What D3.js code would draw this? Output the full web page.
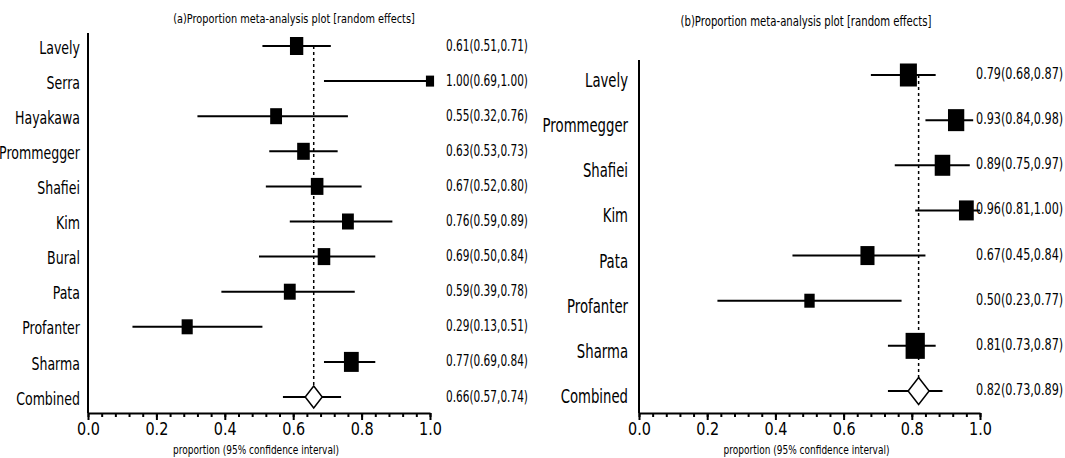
<!DOCTYPE html>
<html>
<head>
<meta charset="utf-8">
<script src="https://cdn.jsdelivr.net/npm/d3@7"></script>
<style>
  body { margin: 0; background: #fff; }
  text { font-family: "DejaVu Sans", sans-serif; fill: #000; }
</style>
</head>
<body>
<div id="chart"></div>
<script>
// panel (a)
const studiesA = ["Lavely", "Serra", "Hayakawa", "Prommegger", "Shafiei", "Kim", "Bural", "Pata", "Profanter", "Sharma"]
const estA = [0.61, 1.00, 0.55, 0.63, 0.67, 0.76, 0.69, 0.59, 0.29, 0.77]
const lowA = [0.51, 0.69, 0.32, 0.53, 0.52, 0.59, 0.50, 0.39, 0.13, 0.69]
const highA = [0.71, 1.00, 0.76, 0.73, 0.80, 0.89, 0.84, 0.78, 0.51, 0.84]
const boxA = [18, 11, 16, 17, 17, 16, 17, 16, 15, 20]   // marker size
const combA = {est: 0.66, low: 0.57, high: 0.74}

// panel (b)
const studiesB = ["Lavely", "Prommegger", "Shafiei", "Kim", "Pata", "Profanter", "Sharma"]
const estB = [0.79, 0.93, 0.89, 0.96, 0.67, 0.50, 0.81]
const lowB = [0.68, 0.84, 0.75, 0.81, 0.45, 0.23, 0.73]
const highB = [0.87, 0.98, 0.97, 1.00, 0.84, 0.77, 0.87]
const boxB = [23, 22, 21, 20, 19, 14, 26]
const combB = {est: 0.82, low: 0.73, high: 0.89}

const majorTicks = [0, 0.2, 0.4, 0.6, 0.8, 1.0]
const minorTicks = d3.range(0, 1.0001, 0.04)

const W = 1065, H = 458
const squeeze = 0.74   // the picture is narrowed horizontally

const svg = d3.select("#chart").append("svg")
  .attr("width", W).attr("height", H)

function txt(g, x, y, s, size, anchor, sx = 0.72) {
  return g.append("text")
    .attr("transform", `translate(${x},${y}) scale(${sx},1)`)
    .attr("text-anchor", anchor)
    .attr("dy", "0.36em")
    .style("font-size", size + "px")
    .text(s)
}

function fmt(e, l, h) {
  return `${e.toFixed(2)}(${l.toFixed(2)},${h.toFixed(2)})`
}

function forest(cfg) {
  const g = svg.append("g")
  const x = d3.scaleLinear().domain([0, 1]).range([cfg.x0, cfg.x1])
  const names = cfg.studies.concat(["Combined"])
  const y = d3.scalePoint().domain(names).range([cfg.yTop, cfg.yBottom])
  const rows = cfg.studies.map((s, i) => ({name: s, est: cfg.est[i], low: cfg.low[i], high: cfg.high[i], box: cfg.box[i]}))

  // title
  txt(g, cfg.titleX, cfg.titleY, cfg.title, cfg.titleSize, "middle", 0.75)

  // y axis line
  g.append("line")
    .attr("x1", cfg.x0).attr("x2", cfg.x0)
    .attr("y1", cfg.axisTop).attr("y2", cfg.axisY)
    .attr("stroke", "#000").attr("stroke-width", 2)

  // dashed line at the combined estimate
  g.append("line")
    .attr("x1", x(cfg.comb.est)).attr("x2", x(cfg.comb.est))
    .attr("y1", y(names[0])).attr("y2", y("Combined"))
    .attr("stroke", "#000").attr("stroke-width", 1.5)
    .style("stroke-dasharray", "3,3")

  // confidence intervals
  g.selectAll("line.ci").data(rows).enter().append("line")
    .attr("class", "ci")
    .attr("x1", d => x(d.low)).attr("x2", d => x(d.high))
    .attr("y1", d => y(d.name)).attr("y2", d => y(d.name))
    .attr("stroke", "#000").attr("stroke-width", 2)

  // boxes
  g.selectAll("rect.box").data(rows).enter().append("rect")
    .attr("class", "box")
    .attr("x", d => x(d.est) - d.box * squeeze / 2)
    .attr("y", d => y(d.name) - d.box / 2)
    .attr("width", d => d.box * squeeze)
    .attr("height", d => d.box)
    .attr("fill", "#000")

  // combined
  const cy = y("Combined")
  g.append("line")
    .attr("x1", x(cfg.comb.low)).attr("x2", x(cfg.comb.high))
    .attr("y1", cy).attr("y2", cy)
    .attr("stroke", "#000").attr("stroke-width", 2)
  const cx = x(cfg.comb.est), dw = cfg.diamond[0] / 2, dh = cfg.diamond[1] / 2
  g.append("path")
    .attr("d", `M${cx},${cy - dh}L${cx + dw},${cy}L${cx},${cy + dh}L${cx - dw},${cy}Z`)
    .attr("fill", "#fff").attr("stroke", "#000").attr("stroke-width", 1.5)

  // study labels
  names.forEach(n => txt(g, cfg.labelX, y(n) + cfg.labelDy, n, cfg.labelSize, "end", 0.68))

  // values
  rows.forEach(d => txt(g, cfg.valX, y(d.name) + cfg.valDy, fmt(d.est, d.low, d.high), cfg.valSize, "start", 0.68))
  txt(g, cfg.valX, cy + cfg.valDy, fmt(cfg.comb.est, cfg.comb.low, cfg.comb.high), cfg.valSize, "start", 0.68)

  // x axis
  const ax = g.append("g").attr("transform", `translate(0,${cfg.axisY})`)
    .call(d3.axisBottom(x).tickValues(majorTicks).tickSize(7).tickSizeOuter(0).tickFormat(d3.format(".1f")))
  ax.attr("font-family", null).attr("font-size", null)
  ax.select(".domain").attr("stroke-width", 2)
  ax.selectAll(".tick line").attr("stroke-width", 2)
  ax.selectAll(".tick text")
    .style("font-size", "18px")
    .attr("y", 9)
    .attr("transform", "scale(0.8,1)")

  const mn = g.append("g").attr("transform", `translate(0,${cfg.axisY})`)
    .call(d3.axisBottom(x).tickValues(minorTicks).tickSize(4).tickSizeOuter(0).tickFormat(""))
  mn.select(".domain").remove()
  mn.selectAll(".tick line").attr("stroke-width", 2)

  txt(g, (cfg.x0 + cfg.x1) / 2 - 3, cfg.xlabY, "proportion (95% confidence interval)", 12, "middle", 0.75)
}

forest({
  studies: studiesA, est: estA, low: lowA, high: highA, box: boxA, comb: combA,
  title: "(a)Proportion meta-analysis plot [random effects]", titleSize: 13,
  titleX: 294, titleY: 18,
  x0: 88, x1: 430, yTop: 46, yBottom: 397, axisTop: 33, axisY: 413,
  diamond: [17, 22],
  labelX: 80, labelDy: 1, labelSize: 18.5,
  valX: 446, valDy: -1, valSize: 15.5,
  xlabY: 450
})

forest({
  studies: studiesB, est: estB, low: lowB, high: highB, box: boxB, comb: combB,
  title: "(b)Proportion meta-analysis plot [random effects]", titleSize: 13.5,
  titleX: 806, titleY: 21,
  x0: 639, x1: 980, yTop: 75, yBottom: 391, axisTop: 60, axisY: 413,
  diamond: [21, 27],
  labelX: 628, labelDy: 5, labelSize: 19.5,
  valX: 976, valDy: -2, valSize: 16.5,
  xlabY: 450
})
</script>
</body>
</html>
